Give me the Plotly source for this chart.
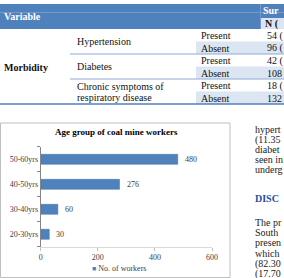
import plotly.graph_objects as go

# ---------------- data ----------------
age_groups = ["20-30yrs", "30-40yrs", "40-50yrs", "50-60yrs"]
workers = [30, 60, 276, 480]
chart_title = "Age group of coal mine workers"
legend_label = "No. of workers"
x_ticks = [0, 200, 400, 600]

conditions = ["Hypertension", "Diabetes", "Chronic symptoms of<br>respiratory disease"]
present_n = [54, 42, 18]
absent_n = [96, 108, 132]
# visible (cropped) parts of the table's count column
present_txt = ["54 (", "42 (", "18 ("]
absent_txt = ["96 (", "108", "132"]
header_top = "Sur"
header_sub = "N ("

side_text_top = ["hypert", "(11.35", "diabet", "seen in", "underg"]
side_heading = "DISC"
side_text_bottom = ["The pr", "South", "presen", "which", "(82.30", "(17.70"]

# ---------------- helpers ----------------
W, H = 284, 278
def px(x):
    return x / W
def py(y):
    return 1 - y / H

SERIF = "Liberation Serif"
BLUE = "#4F81BD"
LIGHT = "#DCE6F2"

fig = go.Figure()
fig.add_trace(go.Bar(
    y=age_groups, x=workers, orientation="h", width=0.4,
    marker=dict(color=BLUE, line=dict(color="#41719C", width=0.5)),
    showlegend=False, hoverinfo="skip",
))

shapes = []
annotations = []

def rect(x0, y0, x1, y1, fill=None, line=None, lw=1):
    shapes.append(dict(type="rect", xref="paper", yref="paper",
                       x0=px(x0), x1=px(x1), y0=py(y1), y1=py(y0),
                       fillcolor=fill if fill else "rgba(0,0,0,0)",
                       line=dict(color=line if line else "rgba(0,0,0,0)", width=lw if line else 0),
                       layer="below"))

def hline(x0, x1, y, color, lw=1):
    shapes.append(dict(type="line", xref="paper", yref="paper",
                       x0=px(x0), x1=px(x1), y0=py(y), y1=py(y),
                       line=dict(color=color, width=lw), layer="below"))

def vline(x, y0, y1, color, lw=1):
    shapes.append(dict(type="line", xref="paper", yref="paper",
                       x0=px(x), x1=px(x), y0=py(y0), y1=py(y1),
                       line=dict(color=color, width=lw), layer="below"))

def text(x, y, s, size=10, color="#111", bold=False, anchor="left"):
    if bold:
        s = "<b>" + s + "</b>"
    annotations.append(dict(xref="paper", yref="paper", x=px(x), y=py(y), text=s,
                            showarrow=False, xanchor=anchor, yanchor="middle",
                            borderpad=0, font=dict(family=SERIF, size=size, color=color)))

# ---------------- table ----------------
rect(0, 4, 284, 29, fill=BLUE)
hline(0, 284, 12.5, "#7FA2D2", 0.8)
vline(260.5, 4, 29, "#7FA2D2", 0.8)
rect(261, 18, 284, 29, fill=LIGHT)

text(3, 17, "Variable", color="white", bold=True)
text(262, 11, header_top, color="white", bold=True)
text(264, 23.5, header_sub, color="#111", bold=True)

group_top = 29
row_h = 12.5
for i, cond in enumerate(conditions):
    g0 = group_top + i * 2 * row_h
    rect(196, g0 + row_h, 284, g0 + 2 * row_h, fill=LIGHT)
    if "<br>" in cond:
        l1, l2 = cond.split("<br>")
        text(76, g0 + row_h - 5.5, l1)
        text(76, g0 + row_h + 6, l2)
    else:
        text(76, g0 + row_h, cond)
    text(200, g0 + row_h / 2 + 0.5, "Present")
    text(200, g0 + 1.5 * row_h + 0.5, "Absent")
    text(266, g0 + row_h / 2 + 0.5, present_txt[i])
    text(266, g0 + 1.5 * row_h + 0.5, absent_txt[i])
    if i < len(conditions) - 1:
        hline(70, 284, g0 + 2 * row_h, "#8EAAD6", 1)
hline(0, 284, 104, BLUE, 1.4)
text(3, 67, "Morbidity", bold=True)

# ---------------- chart frame ----------------
rect(0.5, 123, 230, 277.5, line="#BFBFBF", lw=1)
text(116, 132, chart_title, size=9, color="#000", bold=True, anchor="center")
annotations.append(dict(xref="paper", yref="paper", x=px(91), y=py(268.7),
                        text="<span style='color:%s;font-size:7px'>■</span> %s" % (BLUE, legend_label),
                        showarrow=False, xanchor="left", yanchor="middle", borderpad=0,
                        font=dict(family=SERIF, size=8, color="#404040")))

# value labels
for g, v in zip(age_groups, workers):
    annotations.append(dict(xref="x", yref="y", x=v, y=g, text=str(v), showarrow=False,
                            xanchor="left", yanchor="middle", xshift=6, borderpad=0,
                            font=dict(family=SERIF, size=8, color="#404040")))

# ---------------- side text ----------------
for k, s in enumerate(side_text_top):
    text(254, 129.5 + k * 10, s, size=10, color="#222")
text(254, 198, side_heading, size=10, color="#1F4E9E", bold=True)
for k, s in enumerate(side_text_bottom):
    text(254, 222 + k * 10.4, s, size=10, color="#222")

fig.update_layout(
    template="none",
    width=W, height=H,
    margin=dict(l=0, r=0, t=0, b=0),
    paper_bgcolor="white", plot_bgcolor="rgba(0,0,0,0)",
    showlegend=False,
    shapes=shapes, annotations=annotations,
    xaxis=dict(domain=[px(40.7), px(212)], range=[0, 600], tickvals=x_ticks,
               showgrid=False, zeroline=False, showline=True, linecolor="#D9D9D9",
               ticks="outside", ticklen=3, tickcolor="#BFBFBF", automargin=False,
               tickfont=dict(family=SERIF, size=8, color="#404040")),
    yaxis=dict(domain=[py(246.8), py(146.8)], type="category", categoryorder="array",
               categoryarray=age_groups, range=[-0.5, 3.5], tickson="boundaries",
               showgrid=False, zeroline=False, showline=True, linecolor="#868686",
               ticks="outside", ticklen=3, tickcolor="#868686", automargin=False,
               tickfont=dict(family=SERIF, size=8, color="#404040")),
)

fig.write_html("out.html")
